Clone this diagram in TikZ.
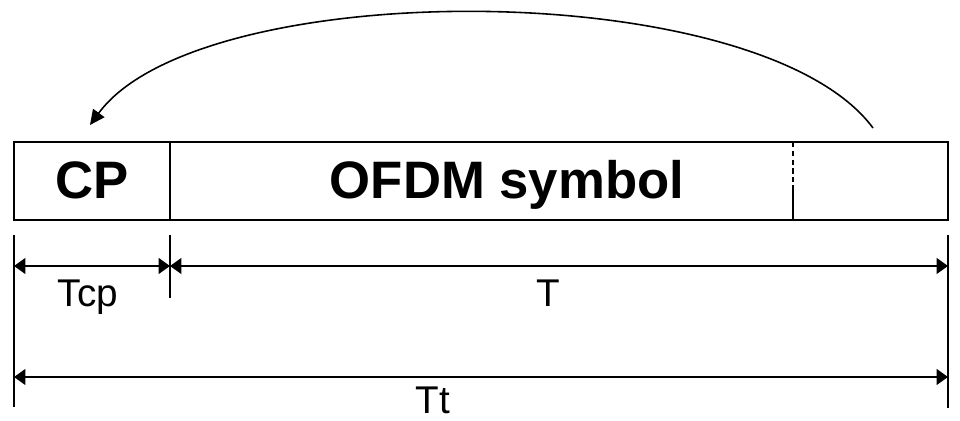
\documentclass[tikz,border=0pt]{standalone}
\usepackage{fontspec}
\setmainfont{Liberation Sans}
\usetikzlibrary{arrows.meta}

\begin{document}
\begin{tikzpicture}[x=0.02cm, y=-0.02cm,
                    frame/.style={draw, line width=1.3pt},
                    tick/.style={line width=1pt},
                    dim/.style={line width=1.1pt, {Triangle[length=6.5pt,width=9pt]}-{Triangle[length=6.5pt,width=9pt]}},
                    loop/.style={line width=0.9pt, -{Triangle[length=8.5pt,width=8pt]}},
                    big/.style={font=\fontsize{30}{32}\selectfont\bfseries, anchor=base},
                    lbl/.style={font=\fontsize{22}{24}\selectfont, anchor=base}
                ]
                \useasboundingbox (0,0) rectangle (960,421);
                % symbol frame
                \draw[frame] (14,142) rectangle (948,220);
                \draw[frame] (170,142) -- (170,220);
                \draw[line width=1pt, densely dashed] (793,142) -- (793,185);
                \draw[line width=1pt] (793,185) -- (793,220);
                \node[big] (cp) at (92,199) {CP};
                \node[big] (ofdm) at (507,199) {OFDM symbol};
                % copy of the tail
                \coordinate (tail) at (873,128);
                \coordinate (head) at (90,125);
                \draw[loop] (tail) .. controls (760,-25) and (200,-25) .. (head);
                % time marks
                \coordinate (a0) at (14,235);  \coordinate (a1) at (14,407);
                \coordinate (b0) at (170,235); \coordinate (b1) at (170,298);
                \coordinate (c0) at (948,235); \coordinate (c1) at (948,408);
                \draw[tick] (a0) -- (a1);
                \draw[tick] (b0) -- (b1);
                \draw[tick] (c0) -- (c1);
                \coordinate (p1) at (14,266);  \coordinate (p2) at (170,266);
                \coordinate (p3) at (948,266);
                \coordinate (q1) at (14,377);  \coordinate (q2) at (948,377);
                \draw[dim] (p1) -- (p2);
                \draw[dim] (p2) -- (p3);
                \draw[dim] (q1) -- (q2);
                \node[lbl] (tcp) at (88,307) {Tcp};
                \node[lbl] (t) at (548,307) {T};
                \node[lbl] (tt) at (433,414) {Tt};
\end{tikzpicture}
\end{document}
